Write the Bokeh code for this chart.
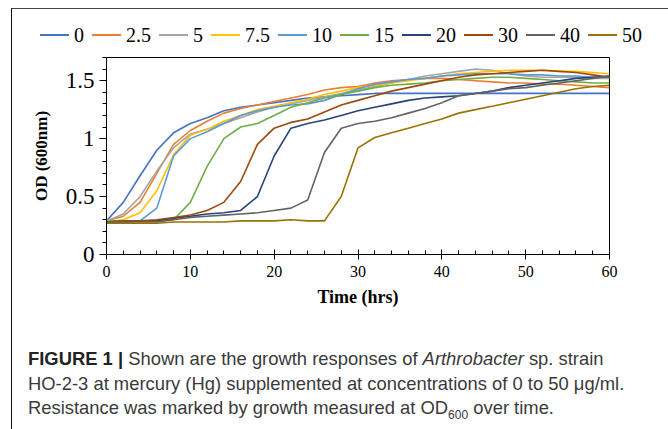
import re
from bokeh.plotting import figure
from bokeh.models import SingleIntervalTicker, NumeralTickFormatter, Range1d, Div
from bokeh.layouts import column, row
from bokeh.embed import file_html
from bokeh.resources import INLINE

time_hrs = [0, 2, 4, 6, 8, 10, 12, 14, 16, 18, 20, 22, 24, 26, 28, 30,
            32, 34, 36, 38, 40, 42, 44, 46, 48, 50, 52, 54, 56, 58, 60]

concentrations = ["0", "2.5", "5", "7.5", "10", "15", "20", "30", "40", "50"]

od_0 = [0.29, 0.45, 0.68, 0.90, 1.05, 1.13, 1.18, 1.24, 1.27, 1.29, 1.31, 1.33, 1.35, 1.36, 1.37, 1.38,
        1.39, 1.39, 1.39, 1.39, 1.39, 1.39, 1.39, 1.39, 1.39, 1.39, 1.39, 1.39, 1.39, 1.39, 1.39]
od_2_5 = [0.29, 0.33, 0.45, 0.70, 0.95, 1.07, 1.15, 1.22, 1.26, 1.29, 1.32, 1.35, 1.38, 1.42, 1.44, 1.45,
          1.48, 1.50, 1.51, 1.52, 1.52, 1.51, 1.50, 1.49, 1.48, 1.48, 1.47, 1.47, 1.46, 1.45, 1.44]
od_5 = [0.29, 0.35, 0.50, 0.72, 0.92, 1.04, 1.08, 1.13, 1.18, 1.23, 1.27, 1.30, 1.33, 1.36, 1.39, 1.42,
        1.45, 1.48, 1.51, 1.54, 1.56, 1.58, 1.60, 1.59, 1.56, 1.54, 1.53, 1.53, 1.53, 1.52, 1.52]
od_7_5 = [0.28, 0.30, 0.36, 0.55, 0.86, 1.03, 1.08, 1.15, 1.20, 1.25, 1.28, 1.31, 1.34, 1.38, 1.41, 1.44,
          1.46, 1.48, 1.50, 1.52, 1.54, 1.56, 1.57, 1.58, 1.59, 1.59, 1.59, 1.58, 1.58, 1.57, 1.56]
od_10 = [0.29, 0.29, 0.29, 0.40, 0.85, 1.00, 1.06, 1.13, 1.20, 1.24, 1.27, 1.29, 1.30, 1.33, 1.38, 1.43,
         1.47, 1.49, 1.51, 1.52, 1.54, 1.55, 1.56, 1.56, 1.56, 1.55, 1.55, 1.54, 1.54, 1.53, 1.53]
od_15 = [0.29, 0.29, 0.29, 0.29, 0.30, 0.45, 0.76, 1.00, 1.10, 1.13, 1.20, 1.27, 1.31, 1.35, 1.38, 1.41,
         1.44, 1.46, 1.47, 1.48, 1.50, 1.51, 1.52, 1.53, 1.53, 1.52, 1.51, 1.50, 1.49, 1.48, 1.48]
od_20 = [0.28, 0.28, 0.29, 0.29, 0.31, 0.33, 0.35, 0.36, 0.38, 0.50, 0.85, 1.09, 1.13, 1.16, 1.20, 1.24,
         1.27, 1.30, 1.33, 1.35, 1.36, 1.37, 1.39, 1.41, 1.44, 1.46, 1.48, 1.50, 1.52, 1.53, 1.54]
od_30 = [0.28, 0.29, 0.29, 0.30, 0.32, 0.34, 0.38, 0.45, 0.63, 0.95, 1.09, 1.14, 1.17, 1.23, 1.29, 1.33,
         1.37, 1.41, 1.44, 1.47, 1.50, 1.53, 1.55, 1.56, 1.57, 1.58, 1.59, 1.58, 1.57, 1.55, 1.53]
od_40 = [0.28, 0.28, 0.28, 0.28, 0.30, 0.32, 0.33, 0.34, 0.35, 0.36, 0.38, 0.40, 0.47, 0.88, 1.09, 1.13,
         1.15, 1.18, 1.22, 1.26, 1.31, 1.37, 1.39, 1.41, 1.43, 1.44, 1.46, 1.48, 1.50, 1.52, 1.54]
od_50 = [0.27, 0.27, 0.27, 0.27, 0.28, 0.28, 0.28, 0.28, 0.29, 0.29, 0.29, 0.30, 0.29, 0.29, 0.50, 0.92,
         1.01, 1.05, 1.09, 1.13, 1.17, 1.22, 1.25, 1.28, 1.31, 1.34, 1.37, 1.40, 1.43, 1.45, 1.46]

series = [od_0, od_2_5, od_5, od_7_5, od_10, od_15, od_20, od_30, od_40, od_50]
colors = ["#4472C4", "#ED7D31", "#A5A5A5", "#FFC000", "#5B9BD5",
          "#70AD47", "#264478", "#9E480E", "#636363", "#997300"]

SERIF = "Liberation Serif"
LW = 1.6

# ---- legend strip (HTML, built from the series names and colours) ----
legend_items = "".join(
    '<span style="display:inline-flex;align-items:center;margin-right:8px;">'
    f'<span style="display:inline-block;width:29px;height:0;border-top:2px solid {c};'
    'margin-right:5px;"></span>'
    f'<span>{name}</span></span>'
    for name, c in zip(concentrations, colors)
)
legend_html = (
    '<div style="box-sizing:border-box;width:657px;height:41px;border-top:1px solid #444;'
    'border-left:1px solid #111;padding:14px 0 0 28px;display:flex;align-items:flex-start;'
    f'font-family:\'{SERIF}\', serif;font-size:20px;line-height:24px;color:#000;white-space:nowrap;">'
    + legend_items + '</div>'
)
legend_div = Div(text=legend_html, width=657, height=41, margin=0)

# ---- main chart ----
p = figure(width=646, height=271, output_backend="svg", toolbar_location=None,
           x_range=Range1d(0, 60), y_range=Range1d(0, 1.7),
           min_border_left=94, min_border_right=49, min_border_top=8, min_border_bottom=66,
           background_fill_color="white", border_fill_color="white", margin=0)
p.outline_line_color = "black"
p.outline_line_width = 1
p.xgrid.visible = False
p.ygrid.visible = False

for name, ys, c in zip(concentrations, series, colors):
    p.line(time_hrs, ys, line_color=c, line_width=LW)

xa = p.xaxis[0]
xa.ticker = SingleIntervalTicker(interval=10, num_minor_ticks=5)
xa.axis_label = "Time (hrs)"
xa.axis_label_text_font = SERIF
xa.axis_label_text_font_style = "bold"
xa.axis_label_text_font_size = "18px"
xa.axis_label_text_color = "black"
xa.axis_label_standoff = 7
xa.major_label_text_font = SERIF
xa.major_label_text_font_size = "16px"
xa.major_label_text_color = "black"
xa.major_label_standoff = 6
xa.major_tick_in = 5
xa.major_tick_out = 5
xa.minor_tick_in = 4
xa.minor_tick_out = 0
xa.axis_line_color = "black"
xa.major_tick_line_color = "black"
xa.minor_tick_line_color = "black"

ya = p.yaxis[0]
ya.ticker = SingleIntervalTicker(interval=0.5, num_minor_ticks=5)
ya.formatter = NumeralTickFormatter(format="0.[0]")
ya.axis_label = "OD (600nm)"
ya.axis_label_text_font = SERIF
ya.axis_label_text_font_style = "bold"
ya.axis_label_text_font_size = "17px"
ya.axis_label_text_color = "black"
ya.axis_label_standoff = 12
ya.major_label_text_font = SERIF
ya.major_label_text_font_size = "23px"
ya.major_label_text_color = "black"
ya.major_label_standoff = 5
ya.major_tick_in = 0
ya.major_tick_out = 7
ya.minor_tick_in = 0
ya.minor_tick_out = 4
ya.axis_line_color = "black"
ya.major_tick_line_color = "black"
ya.minor_tick_line_color = "black"

left_line = Div(text='<div style="width:1px;height:271px;background:#111;"></div>',
                width=1, height=271, margin=0)

caption_html = (
    '<div style="box-sizing:border-box;width:657px;height:100px;border-left:1px solid #111;'
    'padding:27px 0 0 16px; font-family:\'Liberation Sans\', Arial, sans-serif; '
    'font-size:18.4px; line-height:24.5px; color:#3a3a3a; white-space:nowrap;">'
    '<b style="color:#222">FIGURE 1 |</b> Shown are the growth responses of <i>Arthrobacter</i> sp. strain<br>'
    'HO-2-3 at mercury (Hg) supplemented at concentrations of 0 to 50 \u03bcg/ml.<br>'
    'Resistance was marked by growth measured at OD<sub style="font-size:12px">600</sub> over time.'
    '</div>'
)
caption = Div(text=caption_html, width=657, height=100, margin=0)

layout = column(legend_div, row(left_line, p, margin=0), caption, margin=(8, 0, 0, 11))

html = file_html(layout, INLINE)

# page frame (left and top rule of the figure panel), drawn over everything
frame_css = ('<style>body::after{content:"";position:fixed;left:11px;top:8px;'
             'width:720px;height:520px;border-left:1px solid #111;border-top:1px solid #444;'
             'pointer-events:none;z-index:99999;}</style>')
if "</head>" in html:
    html = html.replace("</head>", frame_css + "</head>", 1)
else:
    html = re.sub(r"(<head[^>]*>)", r"\1" + frame_css, html, count=1)

open("out.html", "w").write(html)
